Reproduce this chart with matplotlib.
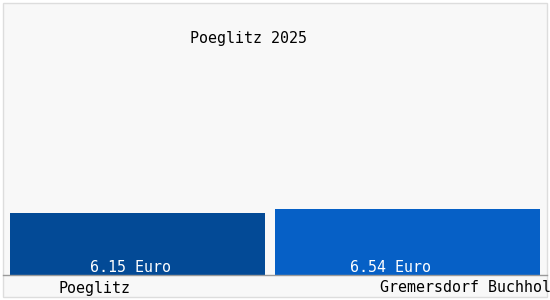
"""
Bar chart of price comparison Poeglitz vs Gremersdorf Buchholz
"""

import numpy as np
import matplotlib.pyplot as plt
from matplotlib.patches import Rectangle

plt.close('all')

# data
title = 'Poeglitz 2025'
places = ['Poeglitz', 'Gremersdorf Buchholz']
prices = [6.15, 6.54]
unit = 'Euro'
colors = ['#034A96', '#0660C6']

# layout in pixel units
W, H = 550, 300
base = 275          # baseline pixel row
ppu = 10.1          # pixels per euro
bar_left = [10, 275]
bar_width = [255, 265]
val_x = [130, 390]
lab_x = [59, 380]
fs = 10.8


def py(row):
    # pixel row -> data y
    return (base - row) / ppu


fig = plt.figure(figsize=(W / 100, H / 100), dpi=100, facecolor='white')
ax = fig.add_axes([0, 0, 1, 1])
ax.set_xlim(0, W)
ax.set_ylim(py(H), py(0))
ax.axis('off')

# frame
frame = Rectangle((3, py(297)), 544, py(3) - py(297), facecolor='#F8F8F8',
                  edgecolor='#DDDDDD', lw=1, zorder=0)
ax.add_patch(frame)

mono = 'DejaVu Sans Mono'

for i, (p, v) in enumerate(zip(places, prices)):
    ax.bar(bar_left[i], v, width=bar_width[i], align='edge',
           color=colors[i], linewidth=0, zorder=2)
    ax.text(val_x[i], py(268), '%.2f %s' % (v, unit), color='white',
            ha='center', va='center', family=mono, fontsize=fs, zorder=3)
    t = ax.text(lab_x[i], py(288), p, color='black', ha='left',
                va='center', family=mono, fontsize=fs, zorder=3)
    t.set_clip_path(frame)

# baseline
ax.plot([3, 547], [0, 0], color='#9A9A9A', lw=1, zorder=2)

ax.text(248, py(39), title, ha='center', va='center',
        family=mono, fontsize=fs, color='black')

plt.savefig('out.png', dpi=100, facecolor=fig.get_facecolor())
